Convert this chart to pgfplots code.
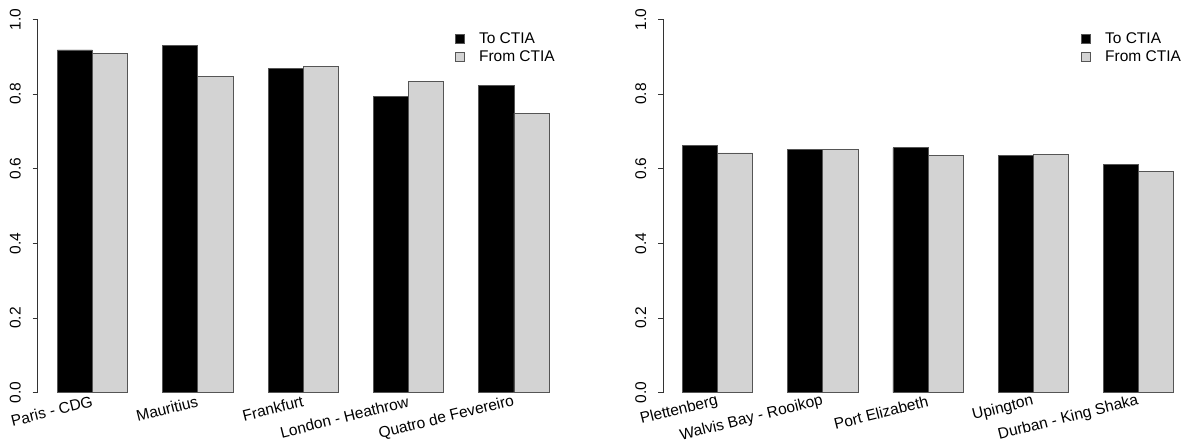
\documentclass[border=0pt]{standalone}
\usepackage{fontspec}
\setmainfont{Liberation Sans}
\usepackage{pgfplots}
\pgfplotsset{compat=1.18}
\definecolor{barlight}{HTML}{D3D3D3}
\definecolor{edge}{HTML}{555555}
\tikzset{
  tobar/.style={fill=black, draw=edge, line width=0.8pt},
  frombar/.style={fill=barlight, draw=edge, line width=0.8pt},
  xlab/.style={anchor=east, rotate=14, inner sep=0pt, font=\fontsize{15.5}{18}\selectfont},
}
\pgfplotsset{
  rstyle/.style={
    scale only axis,
    width=531pt, height=403.2pt,
    anchor=south west,
    xmin=0.44, xmax=15.56,
    ymin=-0.04, ymax=1.04,
    axis x line=none,
    axis y line*=left,
    y axis line style={draw=none},
    ytick={0,0.2,0.4,0.6,0.8,1.0},
    tick align=outside,
    major tick length=5pt,
    major tick style={black!80, line width=0.8pt},
    /pgf/number format/fixed,
    /pgf/number format/fixed zerofill,
    /pgf/number format/precision=1,
    /pgf/number format/assume math mode=true,
    font=\fontsize{15.5}{18}\selectfont,
    yticklabel style={rotate=90, anchor=base, inner sep=0pt, yshift=12pt},
    ybar, bar width=1, bar shift=0,
    clip=false,
    legend image code/.code={\draw[##1,draw=edge,line width=0.8pt] (0pt,-4.5pt) rectangle (9pt,4.5pt);},
    legend style={draw=none, fill=none, anchor=north west, inner sep=0pt,
      font=\fontsize{15.5}{18}\selectfont, row sep=2.5pt,
      nodes={inner sep=1.5pt},
      /tikz/every odd column/.append style={column sep=13pt}},
    legend cell align=left,
  },
}
\begin{document}
\begin{tikzpicture}[x=1pt,y=1pt]
% left panel
\begin{axis}[rstyle, at={(37.7pt,35.4pt)},
  legend style={at={(0.785,0.934)}}]
\addplot[tobar] coordinates {(1.5,0.918) (4.5,0.931) (7.5,0.868) (10.5,0.794) (13.5,0.823)};
\addlegendentry{To CTIA}
\addplot[frombar] coordinates {(2.5,0.909) (5.5,0.846) (8.5,0.873) (11.5,0.833) (14.5,0.749)};
\addlegendentry{From CTIA}
\draw[black!80, line width=0.8pt] (axis cs:0.44,0) -- (axis cs:0.44,1);
\node[xlab] at (axis cs:2,-0.022) {Paris - CDG};
\node[xlab] at (axis cs:5,-0.022) {Mauritius};
\node[xlab] at (axis cs:8,-0.022) {Frankfurt};
\node[xlab] at (axis cs:11,-0.022) {London - Heathrow};
\node[xlab] at (axis cs:14,-0.022) {Quatro de Fevereiro};
\end{axis}
% right panel
\begin{axis}[rstyle, at={(663pt,35.4pt)}, width=530pt,
  legend style={at={(0.788,0.934)}}]
\addplot[tobar] coordinates {(1.5,0.662) (4.5,0.651) (7.5,0.656) (10.5,0.636) (13.5,0.612)};
\addlegendentry{To CTIA}
\addplot[frombar] coordinates {(2.5,0.642) (5.5,0.652) (8.5,0.636) (11.5,0.639) (14.5,0.593)};
\addlegendentry{From CTIA}
\draw[black!80, line width=0.8pt] (axis cs:0.44,0) -- (axis cs:0.44,1);
\node[xlab] at (axis cs:2,-0.022) {Plettenberg};
\node[xlab] at (axis cs:5,-0.022) {Walvis Bay - Rooikop};
\node[xlab] at (axis cs:8,-0.022) {Port Elizabeth};
\node[xlab] at (axis cs:11,-0.022) {Upington};
\node[xlab] at (axis cs:14,-0.022) {Durban - King Shaka};
\end{axis}
\pgfresetboundingbox
\path[use as bounding box] (0,0) rectangle (1187,443);
\end{tikzpicture}
\end{document}
